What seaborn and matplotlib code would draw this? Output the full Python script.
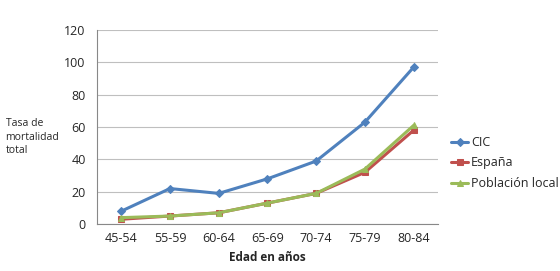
import pandas as pd
import numpy as np
import matplotlib.pyplot as plt
import seaborn as sns

edades = ['45-54', '55-59', '60-64', '65-69', '70-74', '75-79', '80-84']
cic = [8, 22, 19, 28, 39, 63, 97]
espana = [3, 5, 7, 13, 19, 32, 58]
poblacion_local = [4, 5, 7, 13, 19, 34, 61]

series = ['CIC', 'España', 'Población local']
colores = {'CIC': '#4F81BD', 'España': '#C0504D', 'Población local': '#9BBB59'}
marcadores = {'CIC': 'D', 'España': 's', 'Población local': '^'}

df = pd.DataFrame({
    'pos': list(range(len(edades))) * 3,
    'tasa': cic + espana + poblacion_local,
    'serie': [s for s in series for _ in edades],
})

sns.set_style('white')
plt.rcParams['font.family'] = ['Open Sans', 'DejaVu Sans']

fig = plt.figure(figsize=(5.6, 2.71), dpi=100)
ax = fig.add_axes([0.173, 0.173, 0.609, 0.716])

for s in series:
    sub = df[df['serie'] == s]
    sns.lineplot(data=sub, x='pos', y='tasa', ax=ax, color=colores[s],
                 marker=marcadores[s], markersize=5 if s != 'CIC' else 4,
                 markeredgecolor=colores[s], linewidth=2.2, label=s)

ax.set_xlim(-0.5, len(edades) - 0.5)
ax.set_ylim(0, 120)
ax.set_yticks(range(0, 121, 20))
ax.set_xticks(range(len(edades)))
ax.set_xticklabels(edades)
ax.set_xticks(np.arange(-0.5, len(edades), 1), minor=True)
ax.tick_params(axis='x', which='major', length=0, labelsize=9, pad=6)
ax.tick_params(axis='x', which='minor', length=4, color='#888888', direction='out')
ax.tick_params(axis='y', length=4, color='#888888', direction='out', labelsize=9, pad=4)
ax.yaxis.grid(True, color='#BFBFBF', linewidth=0.8)
ax.set_axisbelow(True)
for side in ['top', 'right']:
    ax.spines[side].set_visible(False)
for side in ['left', 'bottom']:
    ax.spines[side].set_color('#888888')
    ax.spines[side].set_linewidth(0.8)

ax.set_xlabel('Edad en años', fontsize=8.5, fontweight='bold', labelpad=4)
ax.set_ylabel('')
fig.text(0.01, 0.494, 'Tasa de\nmortalidad\ntotal', fontsize=7.5, ha='left', va='center',
         linespacing=1.3)

ax.legend(loc='center left', bbox_to_anchor=(1.012, 0.315), frameon=False, fontsize=9,
          handlelength=1.4, handletextpad=0.2, labelspacing=0.6, borderaxespad=0.3)

fig.savefig('out.png', dpi=100)
